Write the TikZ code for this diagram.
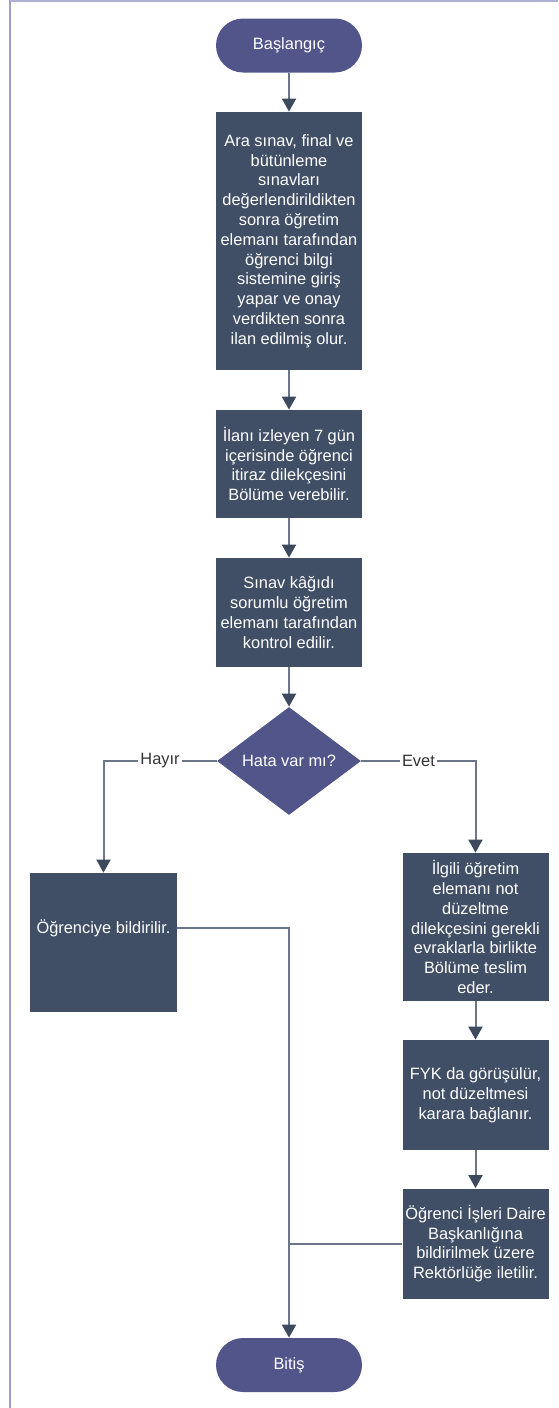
\documentclass[tikz,border=0pt]{standalone}
\usepackage{fontspec}
\setmainfont{Liberation Sans}
\usetikzlibrary{arrows.meta,shapes.geometric}
\definecolor{boxc}{HTML}{404F66}
\definecolor{pillc}{HTML}{52558A}
\definecolor{linec}{HTML}{6B7789}
\definecolor{headc}{HTML}{3D4A5E}
\definecolor{framec}{HTML}{9A9CCB}
\definecolor{labc}{HTML}{333333}
\tikzset{
  txt/.style={font=\fontsize{8.2}{9.9}\selectfont},
  stepbox/.style={txt, rectangle, fill=boxc, text=white, align=center, inner sep=0pt, minimum width=73pt},
  pill/.style={txt, rectangle, rounded corners=13.5pt, fill=pillc, text=white, align=center, inner sep=0pt, minimum width=73pt, minimum height=27pt},
  dia/.style={txt, diamond, fill=pillc, text=white, inner sep=0pt, minimum width=72pt, minimum height=54pt},
  lbl/.style={txt, fill=white, text=labc, inner sep=1pt},
  arr/.style={draw=linec, line width=1pt, -{Triangle[width=7pt,length=6.5pt,color=headc]}},
  ln/.style={draw=linec, line width=1pt},
}
\begin{document}
\begin{tikzpicture}[x=0.5pt,y=-0.5pt]
\useasboundingbox (0,0) rectangle (558,1408);
\draw[framec, line width=1pt] (10,0) -- (10,1408);
\draw[framec!80, line width=0.8pt] (10,0.8) -- (558,0.8);

\node[pill] (start) at (289,45.5) {Başlangıç};
\node[stepbox, minimum height=129pt] (b1) at (289,241) {Ara sınav, final ve\\bütünleme\\sınavları\\değerlendirildikten\\sonra öğretim\\elemanı tarafından\\öğrenci bilgi\\sistemine giriş\\yapar ve onay\\verdikten sonra\\ilan edilmiş olur.};
\node[stepbox, minimum height=54pt] (b2) at (289,464) {İlanı izleyen 7 gün\\içerisinde öğrenci\\itiraz dilekçesini\\Bölüme verebilir.};
\node[stepbox, minimum height=54.5pt] (b3) at (289,612.5) {Sınav kâğıdı\\sorumlu öğretim\\elemanı tarafından\\kontrol edilir.};
\node[dia] (dec) at (289,761) {Hata var mı?};
\node[stepbox, minimum width=73.5pt, minimum height=69.5pt] (nob) at (103.5,942.5) {};
\node[txt, text=white, inner sep=0pt] (nobt) at (103.5,928) {Öğrenciye bildirilir.};
\node[stepbox, minimum height=74pt] (y1) at (475.5,927) {İlgili öğretim\\elemanı not\\düzeltme\\dilekçesini gerekli\\evraklarla birlikte\\Bölüme teslim\\eder.};
\node[stepbox, minimum height=55pt] (y2) at (475.5,1095) {FYK da görüşülür,\\not düzeltmesi\\karara bağlanır.};
\node[stepbox, minimum height=55pt] (y3) at (475.5,1243.5) {Öğrenci İşleri Daire\\Başkanlığına\\bildirilmek üzere\\Rektörlüğe iletilir.};
\node[pill] (end) at (289,1365) {Bitiş};

\draw[arr] (start) -- (b1);
\draw[arr] (b1) -- (b2);
\draw[arr] (b2) -- (b3);
\draw[arr] (b3) -- (dec);
\draw[arr] (dec.west) -- node[lbl]{Hayır} (dec.west -| nob.north) -- (nob.north);
\draw[arr] (dec.east) -- node[lbl]{Evet} (dec.east -| y1.north) -- (y1.north);
\draw[arr] (y1) -- (y2);
\draw[arr] (y2) -- (y3);
\draw[arr] (nob.east |- nobt) -- (end.north |- nobt) -- (end.north);
\draw[ln] (y3.west) -- (end.north |- y3.west);
\end{tikzpicture}
\end{document}
